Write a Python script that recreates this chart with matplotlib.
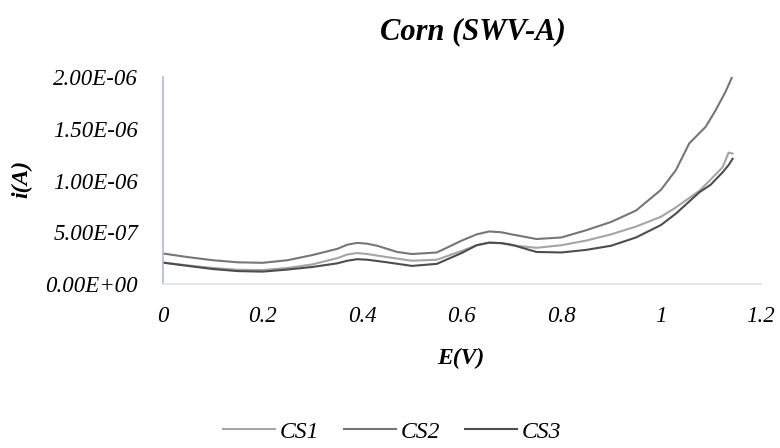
import numpy as np
from matplotlib import pyplot as plt

# potential (V) and current (1e-7 A)
E_cs1 = [0, 0.05, 0.1, 0.15, 0.2, 0.25, 0.3, 0.35, 0.37, 0.39, 0.41, 0.45, 0.5,
         0.55, 0.6, 0.63, 0.655, 0.68, 0.7, 0.75, 0.8, 0.85, 0.9, 0.95, 1.0,
         1.03, 1.077, 1.1, 1.124, 1.136, 1.144]
i_cs1 = [2.07, 1.8, 1.55, 1.38, 1.35, 1.55, 1.9, 2.5, 2.85, 3.0, 2.9, 2.6, 2.25,
         2.35, 3.2, 3.75, 4.0, 3.95, 3.75, 3.5, 3.75, 4.2, 4.8, 5.55, 6.5,
         7.4, 9.0, 10.1, 11.3, 12.7, 12.6]

E_cs2 = [0, 0.05, 0.1, 0.15, 0.2, 0.25, 0.3, 0.35, 0.37, 0.39, 0.41, 0.43, 0.47,
         0.5, 0.55, 0.6, 0.63, 0.655, 0.68, 0.7, 0.75, 0.8, 0.85, 0.9, 0.95,
         1.0, 1.03, 1.057, 1.09, 1.11, 1.13, 1.143]
i_cs2 = [2.95, 2.6, 2.3, 2.1, 2.05, 2.3, 2.8, 3.4, 3.8, 3.98, 3.9, 3.7, 3.1,
         2.9, 3.05, 4.2, 4.8, 5.08, 5.0, 4.8, 4.35, 4.5, 5.2, 6.0, 7.1,
         9.1, 11.0, 13.6, 15.2, 16.8, 18.6, 20.0]

E_cs3 = [0, 0.05, 0.1, 0.15, 0.2, 0.25, 0.3, 0.35, 0.37, 0.39, 0.41, 0.45, 0.5,
         0.55, 0.6, 0.63, 0.655, 0.68, 0.7, 0.75, 0.8, 0.85, 0.9, 0.95, 1.0,
         1.03, 1.077, 1.1, 1.124, 1.136, 1.144]
i_cs3 = [2.07, 1.75, 1.45, 1.25, 1.2, 1.4, 1.65, 2.0, 2.25, 2.4, 2.35, 2.1, 1.75,
         1.95, 3.0, 3.75, 4.0, 3.95, 3.8, 3.1, 3.05, 3.3, 3.7, 4.5, 5.7,
         6.8, 8.86, 9.6, 10.8, 11.5, 12.1]

x_ticks = [0, 0.2, 0.4, 0.6, 0.8, 1, 1.2]
x_tick_labels = ["0", "0.2", "0.4", "0.6", "0.8", "1", "1.2"]
y_ticks = [0, 5e-7, 1e-6, 1.5e-6, 2e-6]
y_tick_labels = ["0.00E+00", "5.00E-07", "1.00E-06", "1.50E-06", "2.00E-06"]

plt.rcParams['font.family'] = ['Liberation Serif', 'DejaVu Serif']
plt.rcParams['font.style'] = 'italic'

fig = plt.figure(figsize=(7.8, 4.48), dpi=100)
ax = fig.add_axes([0.209, 0.366, 0.766, 0.462])

ax.plot(E_cs1, np.array(i_cs1) * 1e-7, "-", color="#a5a5a5", lw=1.5, label="CS1")
ax.plot(E_cs2, np.array(i_cs2) * 1e-7, "-", color="#767676", lw=1.5, label="CS2")
ax.plot(E_cs3, np.array(i_cs3) * 1e-7, "-", color="#4d4d4d", lw=1.5, label="CS3")

ax.set_xlim(0, 1.2)
ax.set_ylim(0, 2e-6)
ax.set_xticks(x_ticks)
ax.set_xticklabels(x_tick_labels)
ax.set_yticks(y_ticks)
ax.set_yticklabels(y_tick_labels)
ax.tick_params(length=0, labelsize=16.5)
ax.tick_params(axis="y", pad=18)
ax.tick_params(axis="x", pad=16)

for s in ["top", "right"]:
    ax.spines[s].set_visible(False)
ax.spines["left"].set_color("#a9bcd3")
ax.spines["left"].set_linewidth(1.2)
ax.spines["bottom"].set_color("#dde2ea")
ax.spines["bottom"].set_linewidth(1.2)

fig.text(0.606, 0.93, "Corn (SWV-A)", ha="center", va="center",
         fontsize=22, fontweight="bold")
fig.text(0.591, 0.2, "E(V)", ha="center", va="center",
         fontsize=17, fontweight="bold")
fig.text(0.028, 0.6, "i(A)", ha="center", va="center", rotation=90,
         fontsize=17, fontweight="bold")

fig.legend(loc="center", bbox_to_anchor=(0.503, 0.036), ncol=3, frameon=False,
           fontsize=17, handlelength=2.2, handletextpad=0.2, columnspacing=1.05)

fig.savefig("out.png", dpi=100)
